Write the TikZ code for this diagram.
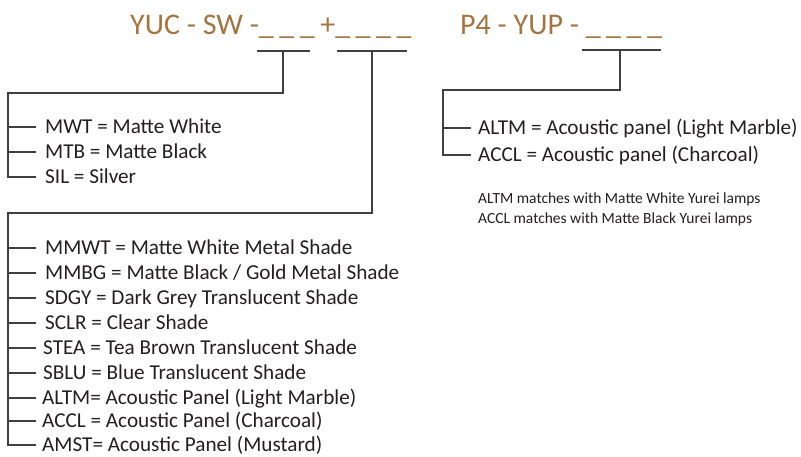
\documentclass[tikz,border=0pt]{standalone}
\usepackage{fontspec}
\setmainfont{Carlito}
\definecolor{ttlc}{RGB}{163,117,64}
\definecolor{lnc}{RGB}{64,64,64}
\definecolor{txc}{RGB}{35,31,32}
\newcommand{\dsh}{\_\hspace{5.5pt}}
\begin{document}
\begin{tikzpicture}[x=1pt,y=-1pt,
  conn/.style={draw=lnc,line width=1.4pt},
  ttl/.style={anchor=base west,inner sep=0pt,text=ttlc,font=\fontsize{30}{32}\selectfont},
  item/.style={anchor=west,inner sep=0pt,text height=13.5pt,text depth=0pt,text=txc,font=\fontsize{21.2}{24}\selectfont},
  note/.style={anchor=west,inner sep=0pt,text height=10pt,text depth=0pt,text=txc,font=\fontsize{15.5}{17}\selectfont}]
\useasboundingbox (0,0) rectangle (801,456);
% titles
\node[ttl] (t1) at (130,34) {YUC - SW -\dsh\dsh\dsh+\dsh\dsh\dsh\_};
\node[ttl] (t2) at (460,34) {P4 - YUP - \dsh\dsh\dsh\_};
% bar coordinates
\coordinate (a1) at (257,51); \coordinate (a2) at (310,51); \coordinate (am) at (283,51);
\coordinate (b1) at (337,51); \coordinate (b2) at (407,51); \coordinate (bm) at (372,51);
\coordinate (c1) at (582,50); \coordinate (c2) at (661,50); \coordinate (cm) at (620,50);
\coordinate (ah) at (283,93); \coordinate (al) at (8,93);
\coordinate (bh) at (372,213); \coordinate (bl) at (8,213);
\coordinate (ch) at (620,90); \coordinate (cl) at (443,90);
\coordinate (te1) at (36,0); \coordinate (te2) at (471,0);
% group 1 items
\node[item] (mwt) at (45,127) {MWT = Matte White};
\node[item] (mtb) at (45,152) {MTB = Matte Black};
\node[item] (sil) at (45,177) {SIL = Silver};
% group 2 items
\node[item] (i1) at (45,248) {MMWT = Matte White Metal Shade};
\node[item] (i2) at (45,273) {MMBG = Matte Black / Gold Metal Shade};
\node[item] (i3) at (45,298) {SDGY = Dark Grey Translucent Shade};
\node[item] (i4) at (45,323) {SCLR = Clear Shade};
\node[item] (i5) at (43,348) {STEA = Tea Brown Translucent Shade};
\node[item] (i6) at (43,373) {SBLU = Blue Translucent Shade};
\node[item] (i7) at (42,398) {ALTM= Acoustic Panel (Light Marble)};
\node[item] (i8) at (42,421) {ACCL = Acoustic Panel (Charcoal)};
\node[item] (i9) at (42,445) {AMST= Acoustic Panel (Mustard)};
% group 3 items
\node[item] (p1) at (478,128) {ALTM = Acoustic panel (Light Marble)};
\node[item] (p2) at (478,155) {ACCL = Acoustic panel (Charcoal)};
\node[note] (n1) at (478,198) {ALTM matches with Matte White Yurei lamps};
\node[note] (n2) at (478,218) {ACCL matches with Matte Black Yurei lamps};
% connectors
\draw[conn] (a1) -- (a2);
\draw[conn] (b1) -- (b2);
\draw[conn] (c1) -- (c2);
\draw[conn] (am) -- (ah) -- (al) -- (al |- sil.west) -- (te1 |- sil.west);
\draw[conn] (al |- mwt.west) -- (te1 |- mwt.west);
\draw[conn] (al |- mtb.west) -- (te1 |- mtb.west);
\draw[conn] (bm) -- (bh) -- (bl) -- (bl |- i9.west) -- (te1 |- i9.west);
\foreach \n in {i1,i2,i3,i4,i5,i6,i7,i8}
  \draw[conn] (bl |- \n.west) -- (te1 |- \n.west);
\draw[conn] (cm) -- (ch) -- (cl) -- (cl |- p2.west) -- (te2 |- p2.west);
\draw[conn] (cl |- p1.west) -- (te2 |- p1.west);
\end{tikzpicture}
\end{document}
